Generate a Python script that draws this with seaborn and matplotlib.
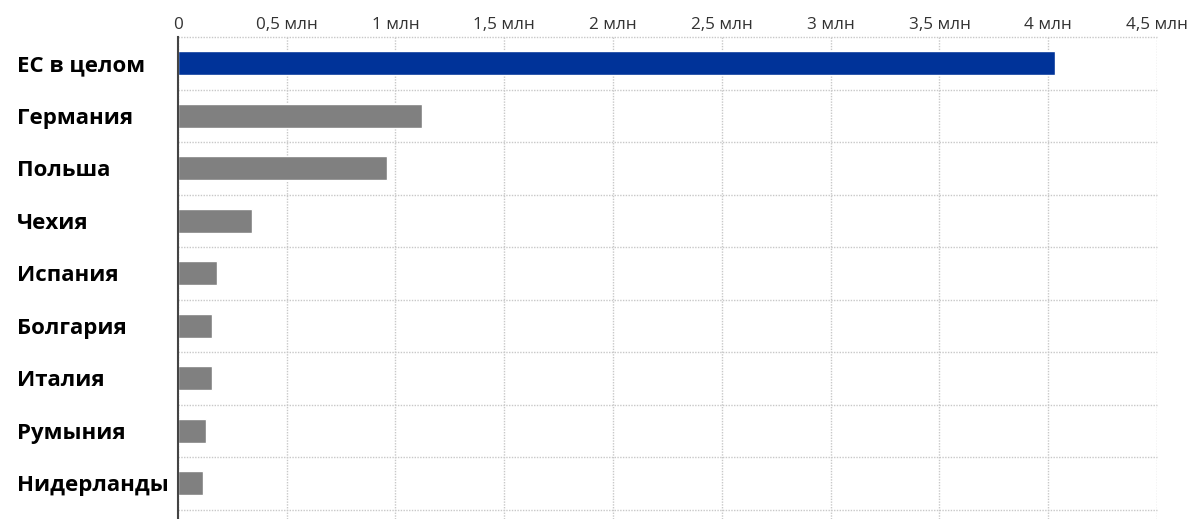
import matplotlib
matplotlib.use("Agg")
import matplotlib.pyplot as plt
import matplotlib.ticker as mticker
import pandas as pd
import seaborn as sns

# значения в млн
countries = ["ЕС в целом", "Германия", "Польша", "Чехия", "Испания",
             "Болгария", "Италия", "Румыния", "Нидерланды"]
values = [4.03, 1.12, 0.96, 0.34, 0.18, 0.155, 0.155, 0.13, 0.115]
bar_colors = ["#003399"] + ["#808080"] * 8
xticks = [0, 0.5, 1, 1.5, 2, 2.5, 3, 3.5, 4, 4.5]

df = pd.DataFrame({"country": countries, "value": values})

sns.set_style("white")
plt.rcParams["font.family"] = ["Open Sans", "DejaVu Sans"]

fig = plt.figure(figsize=(12.02, 5.19), dpi=100)
ax = fig.add_axes([0.148, 0.0, 0.9626 - 0.148, 0.9287])

sns.barplot(data=df, x="value", y="country", hue="country", palette=bar_colors,
            orient="h", width=0.46, legend=False, ax=ax, saturation=1)

ax.set_xlim(0, 4.5)
ax.set_ylim(8.68, -0.5)
ax.set_xlabel("")
ax.set_ylabel("")

# x axis on top
ax.xaxis.tick_top()
ax.set_xticks(xticks)
ax.xaxis.set_major_formatter(mticker.FuncFormatter(
    lambda v, p: "0" if v == 0 else f"{v:g}".replace(".", ",") + " млн"))
ax.tick_params(axis="x", length=0, pad=3, labelsize=12.3, labelcolor="#333333")

# category boundaries as minor ticks / grid
ax.set_yticks([i - 0.5 for i in range(len(countries) + 1)], minor=True)
ax.tick_params(axis="y", which="major", length=0, pad=116)
ax.tick_params(axis="y", which="minor", length=13, width=1, color="#a8a8a8")
for lbl in ax.get_yticklabels():
    lbl.set_fontweight("bold")
    lbl.set_fontsize(16)
    lbl.set_horizontalalignment("left")
    lbl.set_color("black")

ax.grid(axis="x", which="major", color="#c8c8c8", linestyle=(0, (1, 1)), lw=1)
ax.grid(axis="y", which="minor", color="#c8c8c8", linestyle=(0, (1, 1)), lw=1)
ax.set_axisbelow(True)
for t in ax.yaxis.get_minor_ticks():
    t.gridline.set_clip_on(False)

for s in ["top", "right", "bottom"]:
    ax.spines[s].set_visible(False)
ax.spines["left"].set_color("#444444")
ax.spines["left"].set_linewidth(1.5)

fig.savefig("out.png", dpi=100)
